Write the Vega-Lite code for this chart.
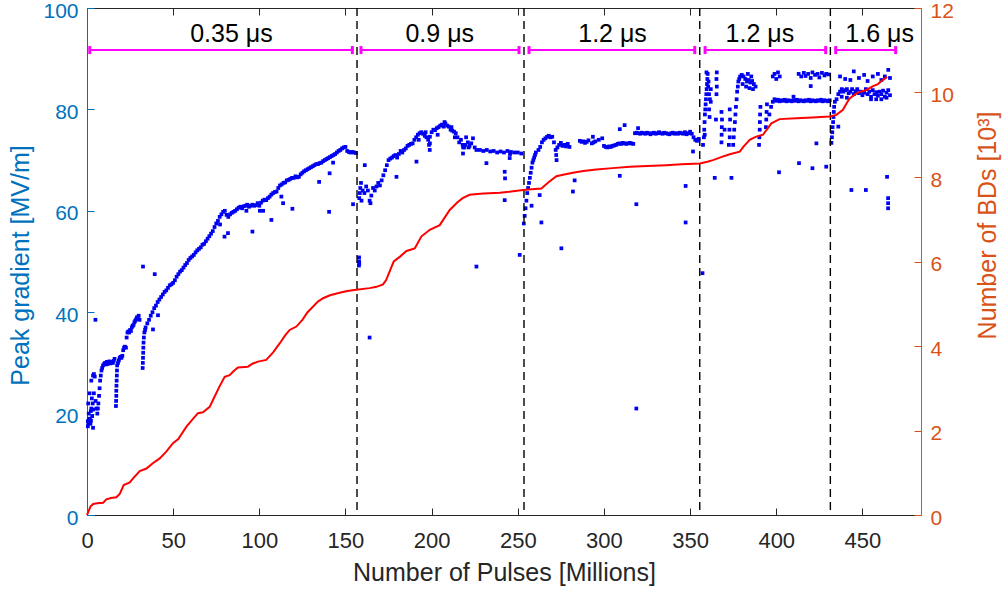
{
  "$schema": "https://vega.github.io/schema/vega-lite/v6.json",
  "width": 834,
  "height": 507,
  "autosize": {"type": "none"},
  "padding": {"left": 87, "top": 8, "right": 82, "bottom": 76},
  "config": {"font": "Liberation Sans", "view": {"stroke": null}, "axis": {"grid": false}},
  "datasets": {
    "pts": [
      {"p":0.5,"g":18.5},{"p":0.8,"g":18},{"p":1.1,"g":19},{"p":1.4,"g":18.3},{"p":1.7,"g":18.8},{"p":2,"g":18},{"p":2.3,"g":18.6},{"p":1,"g":20},{"p":0.7,"g":22},{"p":1.5,"g":24},{"p":2.5,"g":21},{"p":2.8,"g":23},{"p":0.5,"g":17.5},{"p":3.5,"g":17.2},{"p":2.2,"g":20.5},{"p":3,"g":19.5},{"p":3.3,"g":22},{"p":3.6,"g":20.8},{"p":2.5,"g":26.5},{"p":3.5,"g":27.5},{"p":4,"g":27.8},{"p":4.5,"g":27.3},{"p":4.9,"g":38.5},{"p":4,"g":24},{"p":5,"g":22.5},{"p":5.5,"g":21},
      {"p":6,"g":20},{"p":6.3,"g":21},{"p":6.6,"g":22},{"p":7,"g":23.5},{"p":7.3,"g":25},{"p":7.6,"g":26.5},{"p":8,"g":27.5},{"p":8.4,"g":28.5},{"p":8.8,"g":29},{"p":9.3,"g":29.5},{"p":10,"g":29.8},{"p":10.5,"g":30},{"p":11,"g":29.7},{"p":11.5,"g":30.2},{"p":12,"g":29.8},{"p":12.5,"g":30},{"p":13,"g":30.3},{"p":13.5,"g":29.9},{"p":14,"g":30},{"p":14.5,"g":30.2},{"p":15,"g":30},{"p":15.5,"g":30.4},{"p":16,"g":30.8},
      {"p":16.8,"g":21.5},{"p":16.9,"g":22.5},{"p":17,"g":23.5},{"p":17,"g":24.5},{"p":17.1,"g":25.5},{"p":17.2,"g":26.5},{"p":17.3,"g":27.5},{"p":17.4,"g":28.5},{"p":17.5,"g":29.5},{"p":18,"g":30},{"p":18.5,"g":30.5},{"p":19,"g":31},{"p":19.5,"g":31.2},{"p":20,"g":31},{"p":20.5,"g":31.4},{"p":21,"g":32.5},{"p":21.5,"g":33},{"p":22,"g":33.2},{"p":22.6,"g":33},
      {"p":23,"g":35},{"p":23.5,"g":36},{"p":24,"g":36.2},{"p":24.5,"g":36},{"p":25,"g":36.5},{"p":25.5,"g":36.3},{"p":26,"g":37},{"p":26.5,"g":37.3},{"p":27,"g":37.5},{"p":27.5,"g":38},{"p":28,"g":38.3},{"p":28.5,"g":38.6},{"p":29,"g":39},{"p":29.5,"g":38.8},{"p":30,"g":39.3},{"p":30.5,"g":38.5},
      {"p":32.3,"g":29},{"p":32.4,"g":30},{"p":32.5,"g":31},{"p":32.6,"g":32},{"p":32.7,"g":33},{"p":32.8,"g":34},{"p":33,"g":35},{"p":33.3,"g":36},{"p":33.7,"g":36.5},{"p":34,"g":37},{"p":35,"g":37.8},{"p":36,"g":38.5},{"p":37,"g":39.3},{"p":38,"g":40},{"p":38.3,"g":36.6},{"p":39,"g":40.8},{"p":39.3,"g":47.5},{"p":40,"g":41.3},{"p":41,"g":42},{"p":41.2,"g":39.4},{"p":42,"g":42.5},{"p":43,"g":43},{"p":44,"g":43.5},{"p":45,"g":44},{"p":46,"g":44.3},{"p":47,"g":44.8},{"p":48,"g":45.3},{"p":49,"g":45.5},{"p":50,"g":45.8},
      {"p":51,"g":46.3},{"p":52,"g":47},{"p":53,"g":47.5},{"p":54,"g":48},{"p":55,"g":48.3},{"p":56,"g":48.8},{"p":57,"g":49.3},{"p":58,"g":49.7},{"p":59,"g":50.3},{"p":60,"g":50.7},{"p":61,"g":51},{"p":62,"g":51.3},{"p":63,"g":51.8},{"p":64,"g":52.2},{"p":65,"g":52.5},{"p":66,"g":52.8},{"p":67,"g":53.3},{"p":68,"g":53.5},{"p":69,"g":54},{"p":70,"g":54.5},{"p":71,"g":55},{"p":72,"g":55.5},{"p":73,"g":56},{"p":74,"g":56.8},{"p":75,"g":57.5},{"p":76,"g":58},{"p":77,"g":58.8},{"p":77.2,"g":57.3},{"p":78,"g":59.3},{"p":79,"g":59.8},{"p":80,"g":60},
      {"p":81,"g":59.2},{"p":82,"g":58.8},{"p":83,"g":59.3},{"p":84,"g":59.6},{"p":85,"g":59.8},{"p":86,"g":60},{"p":87,"g":60.3},{"p":88,"g":60.6},{"p":89,"g":60.8},{"p":90,"g":60.5},{"p":91,"g":60.9},{"p":92,"g":61},{"p":92.5,"g":60},{"p":93,"g":61.2},{"p":94,"g":60.8},{"p":95,"g":61},{"p":96,"g":61.2},{"p":97,"g":61},{"p":98,"g":61.1},{"p":99,"g":61.5},{"p":100,"g":61},{"p":100.3,"g":60},{"p":101,"g":61.6},{"p":102,"g":62},{"p":102.2,"g":60},{"p":103,"g":62.2},{"p":104,"g":62.1},{"p":105,"g":62.5},{"p":106,"g":62.8},{"p":107,"g":63.2},{"p":108,"g":63.5},{"p":109,"g":63.7},{"p":110,"g":63.8},
      {"p":111,"g":64.5},{"p":112,"g":65},{"p":113,"g":65.2},{"p":114,"g":65.5},{"p":115,"g":65.6},{"p":116,"g":66},{"p":117,"g":66.1},{"p":118,"g":66.3},{"p":119,"g":66.5},{"p":120,"g":66.5},{"p":121,"g":66.8},{"p":122,"g":66.6},{"p":123,"g":66.7},{"p":124,"g":67.2},{"p":125,"g":67.5},{"p":126,"g":67.8},{"p":127,"g":68},{"p":128,"g":68.2},{"p":129,"g":68.4},{"p":130,"g":68.6},{"p":131,"g":68.8},{"p":132,"g":69},{"p":133,"g":69.2},{"p":134,"g":69.2},{"p":135,"g":69.4},{"p":136,"g":69.5},{"p":137,"g":69.8},{"p":138,"g":70},{"p":139,"g":70.2},{"p":140,"g":70.4},{"p":140.8,"g":67.4},{"p":141,"g":70.6},{"p":142,"g":70.8},{"p":142.8,"g":69.5},{"p":143,"g":71},{"p":144,"g":71.2},{"p":145,"g":71.5},{"p":146,"g":71.8},{"p":147,"g":72},{"p":148,"g":72.3},{"p":149,"g":72.5},{"p":150,"g":72.6},{"p":151,"g":71.8},{"p":152,"g":71.6},{"p":153,"g":71.5},{"p":154,"g":71.6},{"p":155,"g":71.5},{"p":156,"g":71.4},
      {"p":32.5,"g":49},{"p":81.8,"g":55.6},{"p":96,"g":55.9},{"p":107,"g":58.2},{"p":112.8,"g":62.8},{"p":119.2,"g":60.4},{"p":140.5,"g":59.8},{"p":154.4,"g":61.3},{"p":79.8,"g":54.9},{"p":134.7,"g":65.7},{"p":113.8,"g":61.5},{"p":157.8,"g":49.2},{"p":157.9,"g":50},{"p":157.9,"g":50.8},{"p":158,"g":49.6},
      {"p":158,"g":62.5},{"p":158.3,"g":63.5},{"p":158.6,"g":64.5},{"p":159,"g":65.5},{"p":159.3,"g":62},{"p":160,"g":64},{"p":161,"g":63.5},{"p":162,"g":64.8},{"p":163,"g":64},{"p":164,"g":62},{"p":164.5,"g":61.5},{"p":165,"g":63},{"p":166,"g":64.5},{"p":167,"g":64},{"p":168,"g":64.8},{"p":169,"g":65.5},{"p":170,"g":65},{"p":171,"g":66},{"p":172,"g":67},{"p":173,"g":68},{"p":174,"g":69},{"p":175,"g":70},{"p":176,"g":70.3},{"p":177,"g":70.5},{"p":178,"g":70.8},{"p":179,"g":71},{"p":180,"g":70.5},{"p":181,"g":71.2},{"p":182,"g":71.8},{"p":183,"g":71.5},{"p":184,"g":72},{"p":185,"g":72.3},{"p":186,"g":72.8},{"p":187,"g":73},{"p":188,"g":73.2},{"p":189,"g":73.3},{"p":190,"g":74},{"p":191,"g":74.5},{"p":192,"g":75},{"p":193,"g":75.3},{"p":194,"g":75.5},{"p":195,"g":75.2},{"p":196,"g":74.8},{"p":197,"g":74.5},{"p":198,"g":74},{"p":198.5,"g":73},{"p":199,"g":74.6},{"p":200,"g":75.5},
      {"p":201,"g":76},{"p":202,"g":75.9},{"p":203,"g":76.3},{"p":204,"g":76.5},{"p":205,"g":76.8},{"p":206,"g":77},{"p":207,"g":76.6},{"p":208,"g":77.2},{"p":209,"g":76.8},{"p":210,"g":76.6},{"p":211,"g":76},{"p":212,"g":75.8},{"p":213,"g":75.6},{"p":214,"g":75.3},{"p":215,"g":74.5},{"p":216,"g":73.5},{"p":217,"g":74},{"p":218,"g":73},{"p":219,"g":72.5},{"p":220,"g":74.5},{"p":221,"g":73.5},{"p":222,"g":72.8},{"p":223,"g":73.3},{"p":224,"g":74.3},{"p":225,"g":72.5},{"p":226,"g":72},{"p":228,"g":72},{"p":230,"g":71.8},{"p":232,"g":72},{"p":234,"g":71.7},{"p":236,"g":71.8},{"p":238,"g":71.5},{"p":240,"g":71.7},{"p":242,"g":71.5},{"p":244,"g":71.8},{"p":246,"g":71.6},{"p":248,"g":71.5},{"p":250,"g":71.5},{"p":252,"g":71.3},
      {"p":179.6,"g":66.7},{"p":191.2,"g":69.7},{"p":231.8,"g":69.4},{"p":226,"g":49},{"p":164,"g":35},{"p":242.4,"g":67.7},{"p":242.4,"g":62.1},{"p":242.6,"g":66.4},{"p":251.1,"g":51.3},{"p":161.2,"g":69},{"p":198.9,"g":72},{"p":199,"g":73.3},{"p":218.2,"g":71.3},{"p":218.3,"g":72.5},{"p":245.3,"g":70.4},{"p":245.5,"g":71.2},{"p":192.5,"g":74},{"p":196.5,"g":75.5},{"p":203.5,"g":75},{"p":207.5,"g":77.5},{"p":211.5,"g":76.5},{"p":213.5,"g":74.5},{"p":219.5,"g":73},{"p":221.5,"g":72.5},
      {"p":253.5,"g":57.5},{"p":254,"g":59},{"p":254.5,"g":60.5},{"p":255,"g":62},{"p":255.5,"g":63.5},{"p":256,"g":64.5},{"p":256.5,"g":65.5},{"p":257,"g":66.5},{"p":257.5,"g":67.5},{"p":258,"g":68.5},{"p":258.5,"g":69.5},{"p":259,"g":70},{"p":259.5,"g":70.5},{"p":260,"g":71},{"p":260.5,"g":71.5},{"p":262,"g":72},{"p":263,"g":72.6},{"p":264,"g":73.5},{"p":265,"g":74},{"p":266,"g":74.3},{"p":267,"g":74.6},{"p":268,"g":74.8},{"p":269,"g":74.5},{"p":270,"g":74.6},{"p":271,"g":73.5},{"p":272,"g":72},{"p":272.3,"g":71},{"p":272.5,"g":70},{"p":273,"g":72.5},{"p":274,"g":73},{"p":275,"g":73.4},{"p":276,"g":72.8},{"p":277,"g":73},{"p":278,"g":72.7},{"p":279,"g":73.2},{"p":280,"g":72.6},
      {"p":286,"g":73.8},{"p":287,"g":73.6},{"p":288,"g":73.7},{"p":289,"g":73.4},{"p":290,"g":73.6},{"p":291,"g":73.9},{"p":293,"g":73.3},{"p":294,"g":73.5},{"p":295,"g":73.7},{"p":297,"g":74},{"p":299,"g":74.3},{"p":300,"g":72.8},{"p":301,"g":72.6},{"p":302,"g":72.5},{"p":303,"g":72.7},{"p":304,"g":72.6},{"p":305,"g":72.8},{"p":306,"g":72.9},{"p":307,"g":73},{"p":308,"g":73.2},{"p":309,"g":73.3},{"p":310,"g":73.2},{"p":311,"g":73.4},{"p":312,"g":73.3},{"p":313,"g":73.2},{"p":314,"g":73.3},{"p":315,"g":73.4},{"p":316,"g":73.3},{"p":317,"g":73.2},
      {"p":318,"g":75.3},{"p":319,"g":75.4},{"p":320,"g":75.3},{"p":321,"g":75.2},{"p":322,"g":75.4},{"p":323,"g":75.3},{"p":324,"g":75.2},{"p":325,"g":75.4},{"p":326,"g":75.3},{"p":327,"g":75.1},{"p":328,"g":75.3},{"p":329,"g":75.4},{"p":330,"g":75.2},{"p":331,"g":75.3},{"p":332,"g":75.5},{"p":333,"g":75.3},{"p":334,"g":75.2},{"p":335,"g":75.4},{"p":336,"g":75.3},{"p":337,"g":75.2},{"p":338,"g":75.1},{"p":339,"g":75.3},{"p":340,"g":75.4},{"p":341,"g":75.2},{"p":342,"g":75.3},{"p":343,"g":75.2},{"p":344,"g":75.4},{"p":345,"g":75.3},{"p":346,"g":75.2},{"p":347,"g":75.5},{"p":348,"g":75.1},{"p":349,"g":75.3},{"p":350,"g":75.6},{"p":351,"g":75.2},{"p":352,"g":74.5},{"p":353,"g":74},{"p":354,"g":73.8},{"p":355,"g":74.2},
      {"p":263.7,"g":57.7},{"p":275.3,"g":52.6},{"p":282,"g":63.8},{"p":309.2,"g":66.9},{"p":318.8,"g":61.3},{"p":347.4,"g":64.9},{"p":347.4,"g":57.7},{"p":351.7,"g":71.7},{"p":357.2,"g":47.7},{"p":283,"g":66},{"p":262.7,"g":63.1},{"p":318.8,"g":21},{"p":258,"g":61},{"p":309.2,"g":76.1},{"p":312,"g":76.9},{"p":319.8,"g":76.3},{"p":293.6,"g":74.6},
      {"p":357.5,"g":73},{"p":358,"g":74.5},{"p":358.2,"g":76},{"p":358.4,"g":77.5},{"p":358.6,"g":79},{"p":358.8,"g":80},{"p":359,"g":81},{"p":359.2,"g":82},{"p":359.4,"g":83},{"p":359.6,"g":84},{"p":359.8,"g":85},{"p":360,"g":86},{"p":360.2,"g":87},{"p":360.5,"g":84.5},{"p":361,"g":83},{"p":361.5,"g":82},{"p":362,"g":81.5},{"p":361,"g":80},{"p":362,"g":84},{"p":361.3,"g":78.5},{"p":360.7,"g":85.5},{"p":359.5,"g":87.3},{"p":358.5,"g":75},
      {"p":365.3,"g":83},{"p":365.5,"g":84.5},{"p":365.3,"g":86},{"p":365.5,"g":87.3},{"p":368.2,"g":73.5},{"p":368.3,"g":75},{"p":368.4,"g":76.5},{"p":368.5,"g":78},{"p":368.2,"g":79.5},{"p":372.5,"g":73},{"p":373,"g":74.5},{"p":372.8,"g":76},{"p":373.2,"g":78},{"p":373,"g":80},
      {"p":375,"g":73},{"p":375.3,"g":74.5},{"p":375.6,"g":76},{"p":376,"g":77.5},{"p":376.3,"g":79},{"p":376.6,"g":80.5},{"p":377,"g":82},{"p":377.3,"g":83.5},{"p":377.7,"g":84.5},{"p":378,"g":85.5},{"p":378.5,"g":86},
      {"p":379,"g":86.5},{"p":380,"g":86.8},{"p":381,"g":86.5},{"p":382,"g":86},{"p":383,"g":85.5},{"p":384,"g":85.8},{"p":385,"g":85.3},{"p":386,"g":85.6},{"p":387,"g":85},{"p":388,"g":84.5},{"p":380.5,"g":85},{"p":382.5,"g":84.5},{"p":384.5,"g":84.2},{"p":386.5,"g":84},{"p":383.5,"g":87},{"p":385.5,"g":86.5},
      {"p":390,"g":73},{"p":390.2,"g":74.5},{"p":390.4,"g":76},{"p":390.5,"g":77.5},{"p":390.6,"g":79},{"p":390.8,"g":80.5},{"p":394,"g":76.5},{"p":394.2,"g":78},{"p":394.4,"g":79.5},{"p":394.6,"g":81},{"p":398,"g":86.5},{"p":399,"g":87},{"p":400,"g":86},{"p":401,"g":87.3},{"p":402,"g":86.5},
      {"p":396,"g":79},{"p":397,"g":80.5},{"p":398,"g":81.5},{"p":399,"g":82},{"p":400,"g":81.7},{"p":401,"g":81.9},{"p":402,"g":81.6},{"p":403,"g":81.8},{"p":404,"g":81.7},{"p":405,"g":81.9},{"p":406,"g":81.6},{"p":407,"g":81.8},{"p":408,"g":81.7},{"p":409,"g":81.6},{"p":410,"g":81.8},{"p":411,"g":81.7},{"p":412,"g":81.9},{"p":413,"g":81.6},{"p":414,"g":81.8},{"p":415,"g":81.7},{"p":416,"g":81.6},{"p":417,"g":81.8},{"p":418,"g":81.7},{"p":419,"g":81.9},{"p":420,"g":81.6},{"p":421,"g":81.8},{"p":422,"g":81.7},{"p":423,"g":81.6},{"p":424,"g":81.8},{"p":425,"g":81.7},{"p":426,"g":81.9},{"p":427,"g":81.6},{"p":428,"g":81.8},{"p":429,"g":81.7},{"p":430,"g":81.6},{"p":431,"g":81.8},
      {"p":413,"g":87},{"p":414.5,"g":86.5},{"p":416,"g":87.2},{"p":417,"g":86.6},{"p":418.5,"g":87},{"p":420,"g":86.2},{"p":421,"g":87.3},{"p":422.5,"g":86.8},{"p":424,"g":87},{"p":425,"g":86.3},{"p":426.5,"g":87.2},{"p":428,"g":86.7},{"p":429,"g":87},{"p":430.5,"g":86.9},{"p":420,"g":84.6},{"p":410,"g":82.5},
      {"p":423.3,"g":73.3},{"p":364.3,"g":66.5},{"p":374,"g":66.5},{"p":401.6,"g":67.6},{"p":413.2,"g":69.4},{"p":421,"g":68.4},{"p":429,"g":68.7},{"p":365,"g":78},{"p":370,"g":76},
      {"p":432,"g":73.4},{"p":432.3,"g":74.5},{"p":432.5,"g":75.5},{"p":432.7,"g":76.5},{"p":433,"g":77.5},{"p":433.2,"g":78.5},{"p":433.4,"g":79.5},{"p":433.6,"g":80.5},{"p":434,"g":81.5},
      {"p":435,"g":82},{"p":436,"g":83},{"p":437,"g":83.5},{"p":438,"g":84},{"p":439,"g":83.5},{"p":440,"g":83.8},{"p":441,"g":84},{"p":442,"g":83.2},{"p":443,"g":83.5},{"p":444,"g":84},{"p":445,"g":83},{"p":446,"g":83.6},{"p":447,"g":84},{"p":448,"g":83.2},{"p":449,"g":83.5},{"p":450,"g":82.8},{"p":451,"g":83.3},{"p":452,"g":84},{"p":453,"g":83},{"p":454,"g":83.5},{"p":455,"g":82.5},{"p":456,"g":83.8},{"p":457,"g":83},{"p":458,"g":83.4},{"p":459,"g":82.7},{"p":460,"g":83.5},{"p":461,"g":83},{"p":462,"g":83.7},{"p":463,"g":82.5},{"p":464,"g":83.3},{"p":465,"g":83.8},{"p":466,"g":82.8},{"p":455,"g":82},{"p":458,"g":82},{"p":461,"g":82},{"p":464,"g":82.3},{"p":438,"g":82.5},{"p":441,"g":82.3},
      {"p":437,"g":86.5},{"p":440,"g":86},{"p":443,"g":85.8},{"p":445,"g":87.5},{"p":448,"g":86.2},{"p":451,"g":86.8},{"p":453,"g":85.6},{"p":456,"g":86.5},{"p":459,"g":87},{"p":461,"g":85.8},{"p":463,"g":86.5},{"p":465,"g":87.8},{"p":466,"g":86.2},
      {"p":436,"g":76.6},{"p":443.6,"g":64.1},{"p":452,"g":64.1},{"p":464.3,"g":66.7},{"p":464.9,"g":60.5},{"p":464.9,"g":61.5},{"p":464.9,"g":62.5}
    ],
    "bd": [
      {"p":0,"n":0},{"p":1,"n":0.1},{"p":2,"n":0.2},{"p":3.6,"n":0.26},{"p":6,"n":0.28},{"p":9.4,"n":0.29},{"p":11.2,"n":0.37},{"p":14,"n":0.4},{"p":17,"n":0.42},{"p":19,"n":0.5},{"p":21.3,"n":0.71},{"p":24.8,"n":0.77},{"p":27,"n":0.88},{"p":30.6,"n":1.04},{"p":34.5,"n":1.1},{"p":38,"n":1.22},{"p":42.2,"n":1.34},{"p":46,"n":1.5},{"p":49.9,"n":1.7},{"p":53,"n":1.8},{"p":57.7,"n":2.09},{"p":61,"n":2.25},{"p":64.4,"n":2.41},{"p":67.3,"n":2.43},{"p":71.2,"n":2.56},{"p":74,"n":2.8},{"p":77,"n":3.05},{"p":79.9,"n":3.27},{"p":82.8,"n":3.31},{"p":85,"n":3.4},{"p":87.6,"n":3.49},{"p":93.4,"n":3.51},{"p":96,"n":3.58},{"p":99.2,"n":3.63},{"p":104,"n":3.67},{"p":108,"n":3.85},{"p":111.8,"n":4.06},{"p":115,"n":4.25},{"p":117.6,"n":4.38},{"p":121.5,"n":4.46},{"p":125,"n":4.62},{"p":128,"n":4.8},{"p":131.1,"n":4.93},{"p":134,"n":5.05},{"p":137,"n":5.13},{"p":141,"n":5.2},{"p":146.6,"n":5.26},{"p":151,"n":5.3},{"p":156.3,"n":5.33},{"p":164,"n":5.37},{"p":168,"n":5.4},{"p":171.8,"n":5.46},{"p":173.6,"n":5.56},{"p":176,"n":5.8},{"p":178,"n":6.0},{"p":181.5,"n":6.11},{"p":185.4,"n":6.25},{"p":190.2,"n":6.31},{"p":194,"n":6.59},{"p":198.9,"n":6.75},{"p":204.7,"n":6.86},{"p":206.6,"n":6.98},{"p":210.5,"n":7.22},{"p":215,"n":7.4},{"p":218,"n":7.5},{"p":222,"n":7.58},{"p":230,"n":7.61},{"p":239.5,"n":7.63},{"p":245,"n":7.65},{"p":253.1,"n":7.69},{"p":258,"n":7.71},{"p":263.7,"n":7.73},{"p":268,"n":7.88},{"p":272.4,"n":8.02},{"p":277,"n":8.06},{"p":282,"n":8.1},{"p":288,"n":8.14},{"p":295.6,"n":8.18},{"p":305,"n":8.21},{"p":315,"n":8.24},{"p":325,"n":8.26},{"p":336.2,"n":8.28},{"p":345,"n":8.3},{"p":355.6,"n":8.32},{"p":360,"n":8.36},{"p":363.3,"n":8.4},{"p":368,"n":8.47},{"p":373,"n":8.54},{"p":378.8,"n":8.6},{"p":381,"n":8.72},{"p":384.6,"n":8.88},{"p":388,"n":8.95},{"p":392.3,"n":9.0},{"p":394.5,"n":9.12},{"p":397.2,"n":9.27},{"p":401.9,"n":9.37},{"p":411.7,"n":9.39},{"p":421,"n":9.41},{"p":431,"n":9.43},{"p":434.9,"n":9.47},{"p":438.7,"n":9.59},{"p":440.5,"n":9.72},{"p":442.6,"n":9.86},{"p":446.5,"n":9.98},{"p":449,"n":10.02},{"p":452.3,"n":10.06},{"p":456.2,"n":10.15},{"p":459,"n":10.2},{"p":462,"n":10.3},{"p":464.3,"n":10.37}
    ],
    "bounds": [{"p":156.7},{"p":253.6},{"p":355.6},{"p":431.4}],
    "spans": [
      {"p":1.6,"p2":154,"g":91.7},{"p":159,"p2":250.7,"g":91.7},{"p":256.5,"p2":352.7,"g":91.7},{"p":358.7,"p2":428.7,"g":91.7},{"p":434.5,"p2":469.3,"g":91.7}
    ],
    "ends": [
      {"p":1.6,"g":91.7},{"p":154,"g":91.7},{"p":159,"g":91.7},{"p":250.7,"g":91.7},{"p":256.5,"g":91.7},{"p":352.7,"g":91.7},{"p":358.7,"g":91.7},{"p":428.7,"g":91.7},{"p":434.5,"g":91.7},{"p":469.3,"g":91.7}
    ],
    "labels": [
      {"p":83.8,"g":94.9,"t":"0.35 μs"},{"p":204.7,"g":94.9,"t":"0.9 μs"},{"p":305,"g":94.9,"t":"1.2 μs"},{"p":390.5,"g":94.9,"t":"1.2 μs"},{"p":460,"g":94.9,"t":"1.6 μs"}
    ]
  },
  "layer": [
    {
      "data": {"name": "pts"},
      "mark": {"type": "square", "color": "#0000F0", "size": 14, "opacity": 1},
      "encoding": {
        "x": {"field": "p", "type": "quantitative", "scale": {"domain": [0, 484], "nice": false, "zero": false},
          "axis": {"orient": "bottom", "values": [0,50,100,150,200,250,300,350,400,450], "title": "Number of Pulses [Millions]",
            "titleFontSize": 25, "titleFontWeight": "normal", "titleColor": "#262626", "titleX": 417, "titleY": 45, "titleBaseline": "top", "titleAlign": "center",
            "labelFontSize": 22, "labelColor": "#262626", "labelPadding": 22, "tickSize": -7, "tickColor": "#262626",
            "domainColor": "#262626", "labelFlush": false, "labelOverlap": false}},
        "y": {"field": "g", "type": "quantitative", "scale": {"domain": [0, 100], "nice": false},
          "axis": {"orient": "left", "values": [0,20,40,60,80,100], "title": "Peak gradient [MV/m]",
            "titleFontSize": 25, "titleFontWeight": "normal", "titleColor": "#0072BD", "titleAngle": -90, "titleX": -54, "titleY": 257, "titleBaseline": "bottom", "titleAlign": "center",
            "labelFontSize": 21, "labelColor": "#0072BD", "labelPadding": 16, "labelOffset": 3, "tickSize": -7, "tickColor": "#0072BD",
            "domainColor": "#0072BD", "labelFlush": false, "labelOverlap": false}}
      }
    },
    {
      "data": {"name": "bounds"},
      "mark": {"type": "rule", "color": "#000000", "strokeWidth": 1.4, "strokeDash": [8, 5]},
      "encoding": {
        "x": {"field": "p", "type": "quantitative", "axis": null}
      }
    },
    {
      "data": {"name": "spans"},
      "mark": {"type": "rule", "color": "#FF00FF", "strokeWidth": 2},
      "encoding": {
        "x": {"field": "p", "type": "quantitative", "axis": null},
        "x2": {"field": "p2"},
        "y": {"field": "g", "type": "quantitative", "scale": {"domain": [0, 100], "nice": false}, "axis": null}
      }
    },
    {
      "data": {"name": "ends"},
      "mark": {"type": "tick", "color": "#FF00FF", "orient": "vertical", "size": 8, "thickness": 3, "opacity": 1},
      "encoding": {
        "x": {"field": "p", "type": "quantitative", "axis": null},
        "y": {"field": "g", "type": "quantitative", "scale": {"domain": [0, 100], "nice": false}, "axis": null}
      }
    },
    {
      "data": {"name": "labels"},
      "mark": {"type": "text", "fontSize": 25, "color": "#000000", "baseline": "middle", "align": "center"},
      "encoding": {
        "x": {"field": "p", "type": "quantitative", "axis": null},
        "y": {"field": "g", "type": "quantitative", "scale": {"domain": [0, 100], "nice": false}, "axis": null},
        "text": {"field": "t"}
      }
    },
    {
      "data": {"name": "bd"},
      "mark": {"type": "line", "color": "#FF0000", "strokeWidth": 2},
      "encoding": {
        "x": {"field": "p", "type": "quantitative",
          "axis": {"orient": "top", "values": [0,50,100,150,200,250,300,350,400,450], "labels": false, "title": null,
            "tickSize": -7, "tickColor": "#262626", "domainColor": "#262626"}},
        "y": {"field": "n", "type": "quantitative", "scale": {"domain": [0, 12], "nice": false},
          "axis": {"orient": "right", "values": [0,2,4,6,8,10,12], "title": "Number of BDs [10³]",
            "titleAngle": -90, "titleBaseline": "top", "titleAlign": "center", "titleX": 54, "titleY": 217,
            "titleFontSize": 25, "titleFontWeight": "normal", "titleColor": "#D95319",
            "labelFontSize": 21, "labelColor": "#D95319", "labelPadding": 16, "labelOffset": 3, "tickSize": -7, "tickColor": "#D95319",
            "domainColor": "#D95319", "labelFlush": false, "labelOverlap": false}}
      }
    }
  ],
  "resolve": {"scale": {"y": "independent"}, "axis": {"y": "independent", "x": "independent"}}
}
